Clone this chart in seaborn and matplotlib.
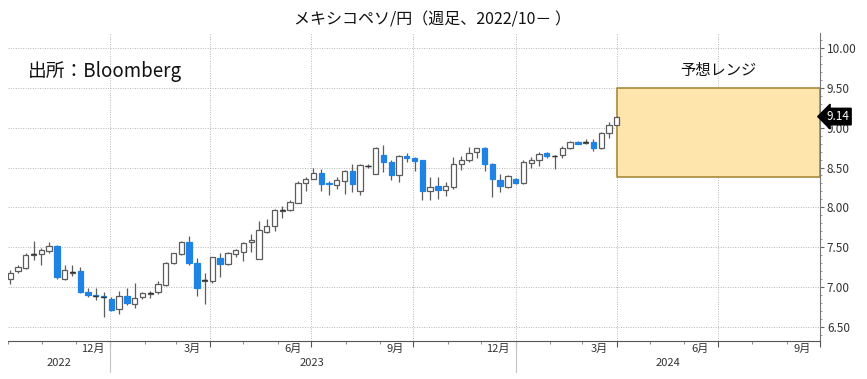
import numpy as np
import pandas as pd
import seaborn as sns
import matplotlib
matplotlib.use('Agg')
import matplotlib.pyplot as plt
import matplotlib.dates as mdates
from matplotlib.transforms import blended_transform_factory

# weekly MXN/JPY candles, Oct 2022 - Mar 2024
week_start = '2022-10-03'
opens = [7.10, 7.20, 7.24, 7.40, 7.41, 7.45, 7.51, 7.10, 7.18, 7.20,
         6.93, 6.90, 6.88, 6.85, 6.72, 6.89, 6.79, 6.87, 6.91, 6.94,
         7.02, 7.30, 7.41, 7.57, 7.30, 7.08, 7.07, 7.36, 7.29, 7.41,
         7.44, 7.57, 7.35, 7.69, 7.77, 7.95, 7.96, 8.06, 8.30, 8.36,
         8.43, 8.31, 8.28, 8.33, 8.45, 8.21, 8.52, 8.42, 8.66, 8.57,
         8.40, 8.64, 8.62, 8.59, 8.21, 8.27, 8.22, 8.26, 8.55, 8.59,
         8.69, 8.74, 8.55, 8.34, 8.26, 8.36, 8.30, 8.56, 8.59, 8.68,
         8.64, 8.66, 8.74, 8.82, 8.81, 8.82, 8.75, 8.93, 9.04]
highs = [7.21, 7.27, 7.42, 7.58, 7.49, 7.56, 7.53, 7.27, 7.28, 7.25,
         6.98, 6.98, 6.94, 6.87, 6.95, 6.99, 7.05, 6.94, 6.95, 7.07,
         7.31, 7.43, 7.58, 7.64, 7.36, 7.17, 7.38, 7.43, 7.44, 7.48,
         7.56, 7.66, 7.83, 7.85, 7.98, 8.02, 8.09, 8.33, 8.38, 8.49,
         8.48, 8.33, 8.38, 8.47, 8.55, 8.55, 8.55, 8.76, 8.78, 8.59,
         8.66, 8.68, 8.63, 8.60, 8.38, 8.38, 8.32, 8.63, 8.64, 8.76,
         8.75, 8.76, 8.56, 8.42, 8.40, 8.37, 8.59, 8.63, 8.70, 8.69,
         8.66, 8.77, 8.83, 8.83, 8.86, 8.86, 8.94, 9.07, 9.15]
lows = [7.04, 7.18, 7.23, 7.34, 7.27, 7.43, 7.10, 7.09, 7.14, 6.92,
        6.87, 6.84, 6.62, 6.70, 6.66, 6.77, 6.74, 6.85, 6.86, 6.91,
        7.01, 7.29, 7.40, 7.28, 6.88, 6.79, 7.05, 7.12, 7.27, 7.37,
        7.33, 7.44, 7.35, 7.68, 7.70, 7.87, 7.95, 8.05, 8.20, 8.35,
        8.21, 8.15, 8.23, 8.17, 8.19, 8.15, 8.49, 8.42, 8.44, 8.34,
        8.32, 8.57, 8.45, 8.09, 8.09, 8.11, 8.14, 8.23, 8.47, 8.57,
        8.62, 8.45, 8.13, 8.19, 8.24, 8.29, 8.29, 8.50, 8.52, 8.62,
        8.48, 8.62, 8.73, 8.79, 8.79, 8.71, 8.73, 8.87, 9.03]
closes = [7.18, 7.25, 7.40, 7.41, 7.46, 7.51, 7.12, 7.21, 7.19, 6.93,
          6.90, 6.89, 6.87, 6.71, 6.89, 6.80, 6.86, 6.92, 6.92, 7.04,
          7.30, 7.42, 7.56, 7.30, 6.98, 7.09, 7.37, 7.29, 7.43, 7.46,
          7.55, 7.59, 7.71, 7.76, 7.97, 7.96, 8.07, 8.31, 8.36, 8.43,
          8.29, 8.29, 8.34, 8.46, 8.29, 8.53, 8.52, 8.75, 8.57, 8.40,
          8.65, 8.62, 8.58, 8.21, 8.26, 8.22, 8.27, 8.55, 8.60, 8.68,
          8.74, 8.54, 8.35, 8.27, 8.39, 8.30, 8.57, 8.60, 8.67, 8.64,
          8.65, 8.75, 8.82, 8.80, 8.82, 8.75, 8.93, 9.03, 9.14]

# forecast range box
range_start = '2024-04-01'
range_end = '2024-10-01'
range_low = 8.38
range_high = 9.50

x_start = '2022-10-01'
x_end = '2024-10-01'
y_ticks = [6.50, 7.00, 7.50, 8.00, 8.50, 9.00, 9.50, 10.00]
quarter_lines = ['2023-01-01', '2023-04-01', '2023-07-01', '2023-10-01',
                 '2024-01-01', '2024-04-01', '2024-07-01', '2024-10-01']
month_labels = ['12月', '3月', '6月', '9月', '12月', '3月', '6月', '9月']
month_label_dates = ['2022-12-16', '2023-03-16', '2023-06-15', '2023-09-15',
                     '2023-12-16', '2024-03-16', '2024-06-15', '2024-09-15']
year_labels = ['2022', '2023', '2024']
year_label_dates = ['2022-11-16', '2023-07-02', '2024-05-17']
year_dividers = ['2023-01-01', '2024-01-01']

sns.set_theme(style='white')
plt.rcParams['font.family'] = ['Noto Sans CJK JP', 'DejaVu Sans']

fig = plt.figure(figsize=(8.67, 3.79), dpi=100)
ax = fig.add_axes([8 / 867, 38 / 379, 812 / 867, 308 / 379])

df = pd.DataFrame({'open': opens, 'high': highs, 'low': lows, 'close': closes},
                  index=pd.date_range(week_start, periods=len(opens), freq='7D'))
xs = mdates.date2num(df.index.to_pydatetime())
up = df['close'] >= df['open']
blue = '#1f83e6'
edge = '#5c5c5c'
body_w = 4.8

ax.vlines(xs, df['low'], df['high'], color=edge, lw=0.9, zorder=3)
ax.bar(xs[up], (df['close'] - df['open'])[up], bottom=df['open'][up], width=body_w,
       color='white', edgecolor=edge, linewidth=0.9, zorder=4)
ax.bar(xs[~up], (df['close'] - df['open'])[~up], bottom=df['open'][~up], width=body_w,
       color=blue, edgecolor=blue, linewidth=0.9, zorder=4)
# doji ticks
doji = (df['close'] - df['open']).abs() < 0.015
ax.hlines(df['close'][doji], xs[doji] - body_w / 2, xs[doji] + body_w / 2,
          color='#333333', lw=1.0, zorder=5)

# forecast range
rx = mdates.date2num(pd.to_datetime([range_start, range_end]).to_pydatetime())
ax.fill_between(rx, range_low, range_high, facecolor='#fde5ab', edgecolor='#a98a3c',
                linewidth=1.2, zorder=2)
ax.text(rx.mean(), 9.72, '予想レンジ', ha='center', va='center', fontsize=11, color='#111111')

ax.set_xlim(pd.Timestamp(x_start), pd.Timestamp(x_end))
ax.set_ylim(6.32, 10.19)

# axes styling
for s in ['left', 'top']:
    ax.spines[s].set_visible(False)
ax.spines['right'].set_color('#777777')
ax.spines['bottom'].set_color('#555555')
ax.spines['right'].set_linewidth(0.8)
ax.spines['bottom'].set_linewidth(0.8)

ax.yaxis.tick_right()
ax.set_yticks(y_ticks)
ax.set_yticklabels([f'{v:.2f}' for v in y_ticks])
ax.set_yticks(np.arange(6.4, 10.15, 0.1), minor=True)
ax.tick_params(axis='y', which='major', length=3, width=0.8, color='#666666',
               labelsize=8.5, labelcolor='#333333', pad=2, right=True)
ax.tick_params(axis='y', which='minor', length=1.5, width=0.6, color='#888888', right=True)

ax.set_xticks(pd.to_datetime(quarter_lines))
ax.set_xticklabels([])
ax.xaxis.set_minor_locator(mdates.MonthLocator())
ax.tick_params(axis='x', which='major', length=4, width=0.8, color='#555555', bottom=True)
ax.tick_params(axis='x', which='minor', length=2, width=0.6, color='#777777', bottom=True)

ax.grid(True, which='major', color='#b8b8b8', linestyle=(0, (1, 1.5)), linewidth=0.7)
ax.set_axisbelow(True)

xt = ax.get_xaxis_transform()
for d, lab in zip(month_label_dates, month_labels):
    ax.text(pd.Timestamp(d), -0.027, lab, transform=xt, ha='center', va='center',
            fontsize=8, color='#333333')
for d, lab in zip(year_label_dates, year_labels):
    ax.text(pd.Timestamp(d), -0.07, lab, transform=xt, ha='center', va='center',
            fontsize=8, color='#333333')
for d in year_dividers:
    ax.plot([pd.Timestamp(d)] * 2, [0, -0.1], transform=xt, color='#c4c4c4',
            lw=0.8, clip_on=False)

# last price tag
last = df['close'].iloc[-1]
tag_tr = blended_transform_factory(ax.transAxes, ax.transData)
ax.text(1.008, last, f'{last:.2f}', transform=tag_tr, ha='left', va='center',
        fontsize=8.5, color='white', zorder=10,
        bbox=dict(boxstyle='larrow,pad=0.15', fc='black', ec='black'))

fig.text(432 / 867, 1 - 20 / 379, 'メキシコペソ/円（週足、2022/10－ ）',
         ha='center', va='center', fontsize=11.5, color='#111111')
fig.text(28 / 867, 1 - 72 / 379, '出所：Bloomberg', ha='left', va='center',
         fontsize=13.5, color='#111111')

fig.savefig('out.png', dpi=100)
